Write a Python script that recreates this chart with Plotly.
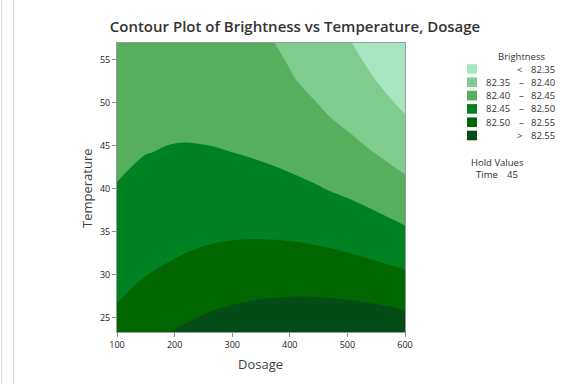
import plotly.graph_objects as go

# ---------------- data ----------------
dosage = [100, 150, 200, 250, 300, 350, 400, 450, 500, 550, 600]
temperature = [23.2, 27.4, 31.6, 35.8, 40.0, 44.2, 48.4, 52.6, 56.9]
brightness = [
    [82.5194, 82.5375, 82.5528, 82.5656, 82.5757, 82.5832, 82.5881, 82.5902, 82.5898, 82.5867, 82.5810],
    [82.4968, 82.5124, 82.5252, 82.5355, 82.5431, 82.5481, 82.5505, 82.5501, 82.5472, 82.5416, 82.5334],
    [82.4779, 82.4910, 82.5013, 82.5091, 82.5142, 82.5167, 82.5166, 82.5137, 82.5083, 82.5002, 82.4895],
    [82.4628, 82.4734, 82.4812, 82.4865, 82.4891, 82.4891, 82.4865, 82.4811, 82.4732, 82.4626, 82.4494],
    [82.4514, 82.4595, 82.4648, 82.4676, 82.4677, 82.4652, 82.4601, 82.4522, 82.4418, 82.4287, 82.4130],
    [82.4438, 82.4494, 82.4522, 82.4525, 82.4501, 82.4451, 82.4375, 82.4271, 82.4142, 82.3986, 82.3804],
    [82.4399, 82.4430, 82.4433, 82.4411, 82.4362, 82.4287, 82.4186, 82.4057, 82.3903, 82.3722, 82.3515],
    [82.4398, 82.4404, 82.4382, 82.4335, 82.4261, 82.4161, 82.4035, 82.3881, 82.3702, 82.3496, 82.3264],
    [82.4434, 82.4415, 82.4368, 82.4296, 82.4197, 82.4072, 82.3921, 82.3742, 82.3538, 82.3307, 82.3050],
]
levels = [82.35, 82.40, 82.45, 82.50, 82.55]
band_colors = ["#A8E6C1", "#80CC8F", "#56AF5C", "#008222", "#006600", "#044B17"]
x_ticks = [100, 200, 300, 400, 500, 600]
y_ticks = [25, 30, 35, 40, 45, 50, 55]
hold_name, hold_value = "Time", "45"

# ---------------- layout helpers ----------------
W, H = 579, 384
ML, MR, MT, MB = 117, 174, 43, 52
PW, PH = W - ML - MR, H - MT - MB
FONT = "Open Sans"
TXT = "#333333"


def fx(px):
    return (px - ML) / PW


def fy(py):
    return 1 - (py - MT) / PH


n = len(band_colors)
colorscale = []
for i, c in enumerate(band_colors):
    colorscale.append([i / n, c])
    colorscale.append([(i + 1) / n, c])

fig = go.Figure()
fig.add_trace(go.Contour(
    x=dosage, y=temperature, z=brightness,
    contours=dict(start=levels[0], end=levels[-1], size=levels[1] - levels[0],
                  coloring="fill", showlines=False),
    line=dict(width=0, smoothing=1.3),
    colorscale=colorscale, showscale=False, hoverinfo="skip",
))

shapes = []
annotations = []

# legend
row_y = [69.0 + 13.3 * i for i in range(n)]
for i, c in enumerate(band_colors):
    yc = row_y[i]
    shapes.append(dict(type="rect", xref="paper", yref="paper",
                       x0=fx(467), x1=fx(477), y0=fy(yc + 4.8), y1=fy(yc - 4.8),
                       fillcolor=c, line=dict(width=0)))
    if i == 0:
        annotations.append(dict(text="<", x=fx(519), y=fy(yc), xanchor="center"))
        annotations.append(dict(text=f"{levels[0]:.2f}", x=fx(557), y=fy(yc), xanchor="right"))
    elif i == n - 1:
        annotations.append(dict(text=">", x=fx(519), y=fy(yc), xanchor="center"))
        annotations.append(dict(text=f"{levels[-1]:.2f}", x=fx(557), y=fy(yc), xanchor="right"))
    else:
        annotations.append(dict(text=f"{levels[i-1]:.2f}", x=fx(484), y=fy(yc), xanchor="left"))
        annotations.append(dict(text="–", x=fx(521), y=fy(yc), xanchor="center"))
        annotations.append(dict(text=f"{levels[i]:.2f}", x=fx(557), y=fy(yc), xanchor="right"))

annotations.append(dict(text="Brightness", x=fx(521), y=fy(56), xanchor="center"))
annotations.append(dict(text="Hold Values", x=fx(469), y=fy(162), xanchor="left"))
annotations.append(dict(text=hold_name, x=fx(474), y=fy(174.5), xanchor="left"))
annotations.append(dict(text=hold_value, x=fx(505), y=fy(174.5), xanchor="left"))

for a in annotations:
    a.update(xref="paper", yref="paper", yanchor="middle", showarrow=False,
             font=dict(family=FONT, size=9.5, color=TXT))

# axis titles
annotations.append(dict(text="Dosage", x=fx(260), y=fy(364), xref="paper", yref="paper",
                        xanchor="center", yanchor="middle", showarrow=False,
                        font=dict(family=FONT, size=13, color="#404040")))
annotations.append(dict(text="Temperature", x=fx(87), y=fy(188), xref="paper", yref="paper",
                        xanchor="center", yanchor="middle", showarrow=False, textangle=-90,
                        font=dict(family=FONT, size=13, color="#404040")))

# faint frame lines at left edge
for xp in (1.5, 13.5):
    shapes.append(dict(type="line", xref="paper", yref="paper",
                       x0=fx(xp), x1=fx(xp), y0=fy(0), y1=fy(H),
                       line=dict(color="#DADADA", width=1)))

fig.update_layout(
    width=W, height=H,
    margin=dict(l=ML, r=MR, t=MT, b=MB),
    paper_bgcolor="white", plot_bgcolor="white",
    title=dict(text="Contour Plot of Brightness vs Temperature, Dosage",
               x=295 / W, xanchor="center", xref="container",
               y=1 - 27 / H, yanchor="middle", yref="container",
               font=dict(family=FONT, size=15, color="#333333", weight=600)),
    shapes=shapes, annotations=annotations,
    xaxis=dict(range=[100, 600], tickvals=x_ticks, ticks="outside", ticklen=4,
               tickcolor="#8C8C8C", showgrid=False, zeroline=False,
               showline=True, linecolor="#9A9A9A", mirror=True,
               tickfont=dict(family=FONT, size=9, color="#222222")),
    yaxis=dict(range=[23.37, 56.9], tickvals=y_ticks, ticks="outside", ticklen=4,
               tickcolor="#8C8C8C", showgrid=False, zeroline=False,
               showline=True, linecolor="#9A9A9A", mirror=True,
               tickfont=dict(family=FONT, size=9, color="#222222")),
)

fig.write_html("out.html")
